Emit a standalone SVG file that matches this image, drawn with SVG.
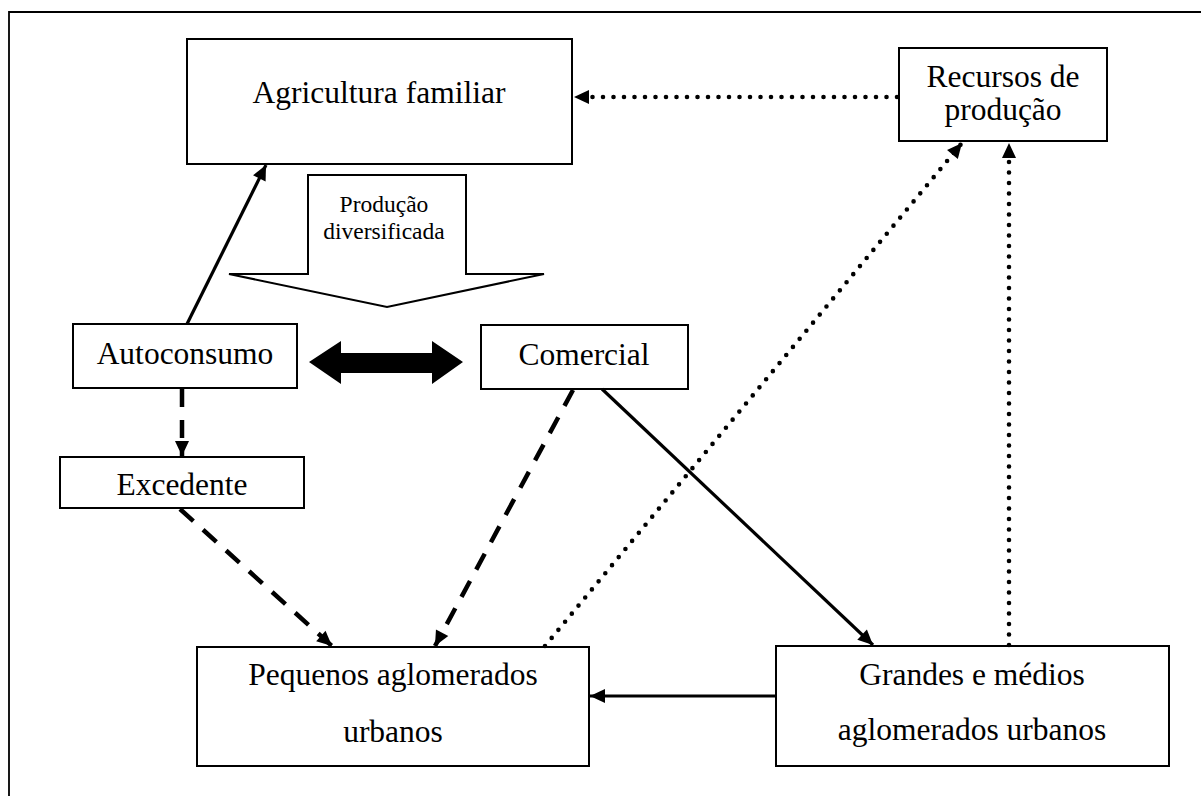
<svg xmlns="http://www.w3.org/2000/svg" width="1201" height="796" viewBox="0 0 1201 796">
<style>
.box{fill:#fff;stroke:#000;stroke-width:2}
.t{font-family:"Liberation Serif","Times New Roman",serif;font-size:31.5px;fill:#000;text-anchor:middle}
.ts{font-family:"Liberation Serif","Times New Roman",serif;font-size:23.5px;fill:#000;text-anchor:middle}
.solid{fill:none;stroke:#000;stroke-width:3.2}
.dash{fill:none;stroke:#000;stroke-width:4.5;stroke-dasharray:18 13}
.dot{fill:none;stroke:#000;stroke-width:4.6;stroke-dasharray:0 10.5;stroke-linecap:round}
</style>
<defs>
<marker id="ah" markerUnits="userSpaceOnUse" markerWidth="18" markerHeight="16" refX="15" refY="7" orient="auto" overflow="visible">
<path d="M0,0 L15,7 L0,14 z" fill="#000"/>
</marker>
</defs>
<rect width="1201" height="796" fill="#fff"/>
<path d="M9,796 V12 H1201" fill="none" stroke="#000" stroke-width="1.8"/>

<g id="agricultura">
<rect class="box" x="187" y="39" width="385" height="125"/>
<text class="t" x="379" y="103">Agricultura familiar</text>
</g>
<g id="recursos">
<rect class="box" x="899" y="48" width="208" height="93"/>
<text class="t" x="1003" y="87">Recursos de</text>
<text class="t" x="1003" y="120">produção</text>
</g>
<g id="producao">
<polygon points="308,175 466,175 466,274 544,274 387,307 229,274 308,274" fill="#fff" stroke="#000" stroke-width="2"/>
<text class="ts" x="384" y="212">Produção</text>
<text class="ts" x="384" y="239">diversificada</text>
</g>
<g id="autoconsumo">
<rect class="box" x="73" y="324" width="224" height="64"/>
<text class="t" x="185" y="364">Autoconsumo</text>
</g>
<g id="comercial">
<rect class="box" x="481" y="325" width="207" height="64"/>
<text class="t" x="584" y="365">Comercial</text>
</g>
<g id="excedente">
<rect class="box" x="60" y="457" width="244" height="51"/>
<text class="t" x="182" y="495">Excedente</text>
</g>
<g id="pequenos">
<rect class="box" x="197" y="647" width="392" height="119"/>
<text class="t" x="393" y="685">Pequenos aglomerados</text>
<text class="t" x="393" y="742">urbanos</text>
</g>
<g id="grandes">
<rect class="box" x="776" y="646" width="393" height="120"/>
<text class="t" x="972" y="685">Grandes e médios</text>
<text class="t" x="972" y="740">aglomerados urbanos</text>
</g>

<g id="connectors">
<polygon points="309,362 341,341 341,353 432,353 432,341 463,362 432,384 432,373 341,373 341,384" fill="#000"/>
<line class="solid" x1="187" y1="324" x2="266" y2="165" marker-end="url(#ah)"/>
<line class="dot" x1="897" y1="97" x2="574" y2="97" marker-end="url(#ah)"/>
<line class="dot" x1="545" y1="646" x2="962" y2="143" marker-end="url(#ah)"/>
<line class="dot" x1="1009" y1="645" x2="1009" y2="143" marker-end="url(#ah)"/>
<line class="dash" x1="182" y1="389" x2="182" y2="456" marker-end="url(#ah)"/>
<line class="dash" x1="180" y1="509" x2="332" y2="646" marker-end="url(#ah)"/>
<line class="dash" x1="573" y1="390" x2="435" y2="646" marker-end="url(#ah)"/>
<line class="solid" x1="602" y1="389" x2="873" y2="645" marker-end="url(#ah)"/>
<line class="solid" x1="776" y1="696" x2="590" y2="696" stroke-width="4.2" marker-end="url(#ah)"/>
</g>
</svg>
